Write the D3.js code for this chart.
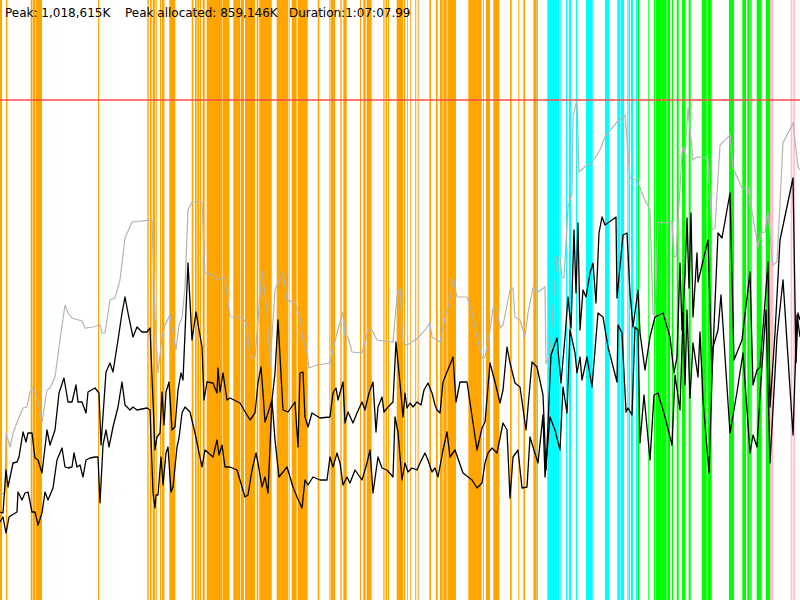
<!DOCTYPE html>
<html lang="en">
<head>
    <meta charset="UTF-8">
    <title>Memory</title>
    <script src="https://cdn.jsdelivr.net/npm/d3@7"></script>
    <style>
        body { margin: 0; background: #fff; }
        .committed { fill: none; stroke: #b4b4b4; stroke-width: 1.2px; }
        .used { fill: none; stroke: #000; stroke-width: 1.3px; stroke-linejoin: round; }
        .limit { stroke: #ff4a4a; stroke-width: 1.5px; }
        .header { font-family: "DejaVu Sans", sans-serif; font-size: 12px; fill: #000; }
    </style>
</head>
<body>
    <div id="chart"></div>
    <script>
        // x = sample index (about 10 s each), y = heap in MB
        const headerTexts = ["Peak: 1,018,615K", "Peak allocated: 859,146K", "Duration:1:07:07.99"];
        const heapLimit = 1000;

        // GC events [start sample, end sample]
        const gcOrange = [[0,1],[3,3.65],[15.35,16],[16.25,17.5],[17.75,21],[49,49.5],
            [73.65,74.35],[75,75.85],[76.35,77.65],[78,78.35],[80,80.5],[80.85,82.2],[84.65,87.65],
            [95.85,96.65],[97.5,98.35],[98.65,99.65],[100,100.5],[101.35,102.35],[103.35,111],[111.25,114.65],
            [116.65,120],[120.35,122],[122.5,127.5],[128.35,129.15],[129.65,135.85],[138.35,144.15],[144.5,144.85],
            [145.85,148.35],[148.85,153.85],[158.85,159.65],[164.5,164.85],[165.25,167.5],[170.15,170.85],
            [171.65,173.35],[180,180.6],[181.65,182.85],[183.35,185.85],[191.65,192.3],[192.8,193.5],[194,194.6],
            [198.35,201.65],[202,202.5],[203.5,203.9],[205,205.4],[207.6,208.1],[208.8,209.3],[214.65,215.5],
            [218,218.85],[220,221.35],[221.65,223.35],[223.65,228],[234.15,240.85],[241.5,241.9],[243,245],
            [246.65,249.65],[255,255.85],[259.15,259.65],[261.65,262.5],[266.65,268.35]];
        const gcCyan = [[268.4,269],[273.65,279.65],[280,280.35],[283,283.65],[284.5,285.65],[288,288.65],
            [293,296.35],[302.5,304.65],[308.65,310.25],[310.5,312],[313.65,314.25],[314.5,315],[315.5,316.65],[318,318.65]];
        const gcGreen = [[318.85,319.65],[324.15,324.65],[327,327.65],[328,330.85],[331,333.35],[333.65,335],
            [335.85,336.65],[338.35,339.35],[341,342.65],[344.35,345.35],[350.85,353.35],[353.85,355.85],[364.5,367],
            [371.15,373],[373.65,374.85],[375.15,375.85],[378.35,380.85],[382.85,385]];
        const gcPink = [[385,386.65],[395.35,396.15],[396.65,397.5]];

        // committed heap (grey)
        const committed = [[0,210],[2.5,214],[3,334],[5,306],[6.5,334],[9,360],[11.5,384],[13.5,386],[15,416],[16.5,424],
            [18.5,406],[21,356],[23.5,420],[25,424],[27.5,446],[30,520],[32.5,590],[34,574],[36,564],[41,558],[42.5,544],
            [46.5,546],[50,550],[51,534],[52.5,534],[55,600],[57.5,604],[60,640],[62.5,724],[66,756],[76,760],[77.5,566],
            [79,454],[81,526],[82.5,550],[85,570],[86,546],[88,500],[89.5,550],[91,564],[92.5,626],[94,780],[96,796],
            [101,796],[102.5,654],[106.5,650],[108.5,640],[112.5,646],[115,566],[121.5,564],[123.5,550],[125,484],
            [127.5,484],[131,660],[133.5,580],[135,466],[137.5,620],[141.5,656],[143.5,600],[147.5,594],[150,566],
            [151.5,520],[153.5,496],[154.5,464],[158.5,470],[165,474],[166.5,500],[168.5,534],[171.5,576],[172.5,530],
            [174,526],[176,496],[181,494],[184,540],[186,540],[188.5,520],[196.5,516],[198.5,606],[200,624],[201.5,514],
            [203.5,510],[209,524],[212.5,540],[215,554],[216,526],[218.5,520],[220,516],[222.5,564],[225,600],[226.5,644],
            [228.5,606],[233.5,606],[236,574],[238.5,526],[241,484],[242.5,486],[245,540],[246.5,584],[248.5,580],
            [250,544],[251.5,550],[255,620],[256.5,624],[257.5,566],[260,560],[262.5,526],[264,574],[266.5,624],
            [269,616],[272.5,626],[273,474],[275,486],[276.5,586],[278.5,686],[280,684],[281,644],[282,644],[284,786],
            [286,814],[286.5,964],[288,994],[288.5,994],[289.5,856],[293.5,870],[296,874],[300,900],[302.5,926],
            [308.5,956],[312.5,970],[315,844],[318.5,840],[321,814],[322.5,800],[325,780],[326.5,574],[327.5,566],
            [329,756],[332.5,754],[336,756],[337,686],[338,688],[341,894],[341.5,906],[342.5,894],[344,984],[346.5,880],
            [348.5,886],[354,884],[356,740],[357.5,744],[360,910],[365,930],[366.5,864],[371,824],[374,824],[379,706],
            [380.5,734],[382.5,736],[384,776],[386.5,670],[388.5,676],[391.5,914],[396.5,954],[399,866],[400,860]];

        // used heap, upper trace
        const usedHigh = [[0,176],[1.5,174],[3,260],[4,226],[6.5,274],[8.5,276],[9.5,286],[11.5,336],[13,316],[14,334],
            [16,334],[17.5,284],[19,280],[21,254],[23.5,340],[25,310],[27.5,340],[29.5,414],[32,444],[34,396],[36,396],
            [38,430],[39,396],[41,396],[43,374],[44,416],[47.5,424],[49.5,414],[50.5,310],[53,456],[55,474],[56.5,456],
            [59,520],[61,574],[62.5,606],[64,574],[66.5,526],[68.5,546],[71,536],[73.5,536],[75,544],[77.5,300],
            [78.5,326],[80,334],[81,416],[82,350],[83,416],[84.5,436],[86,340],[87.5,346],[89,420],[90.5,454],[91.5,440],
            [94,674],[96,520],[98,576],[101,506],[102,400],[103.5,436],[106.5,434],[108.5,414],[109,464],[110,416],
            [111.5,454],[113.5,400],[115,404],[120,394],[123.5,370],[125,360],[127.5,374],[129,434],[130.5,466],
            [131.5,414],[132.5,356],[134,374],[136,400],[137.5,454],[139,560],[141.5,380],[144,376],[147.5,396],
            [149,306],[150,454],[151.5,456],[152.5,366],[154,346],[156,374],[160,364],[165,366],[166.5,414],[168,424],
            [169,400],[171.5,436],[172.5,354],[174,376],[176.5,354],[178.5,374],[181,396],[182.5,380],[184.5,414],
            [186.5,436],[188,336],[189,386],[191,406],[192,376],[194,386],[196.5,396],[198,516],[200,434],[201.5,366],
            [202.5,414],[203.5,384],[205,394],[206.5,386],[208.5,396],[210.5,390],[212,420],[214,434],[216,414],
            [217.5,390],[218.5,380],[220,374],[221.5,436],[226.5,486],[228,396],[230,436],[233.5,436],[238.5,300],
            [241,344],[242.5,356],[245,474],[247.5,436],[250,394],[251.5,420],[253.5,506],[255,474],[257.5,434],
            [260,426],[263,340],[266,476],[268.5,466],[271.5,410],[273,260],[275.5,490],[278.5,524],[280.5,434],
            [282.5,526],[284,606],[285.5,544],[287,740],[288,614],[289,754],[290,540],[291.5,620],[293,606],[295,654],
            [296.5,674],[298,594],[299.5,734],[301,766],[302.5,750],[308,766],[308.5,604],[311.5,730],[313.5,734],
            [315,614],[316.5,546],[319,620],[320,534],[322.5,460],[325,526],[327.5,566],[331.5,574],[335,526],[337,454],
            [338.5,486],[340,674],[341,540],[342.5,650],[343.5,764],[344.5,624],[345.5,774],[346.5,566],[348.5,694],
            [349,636],[354,720],[356,454],[359,734],[361,724],[365,814],[367,480],[371,520],[375,656],[376.5,430],
            [378.5,460],[380,466],[382.5,596],[384,676],[385,386],[387.5,534],[390,720],[396.5,844],[398,474],
            [399,574],[400,560]];

        // used heap, lower trace
        const usedLow = [[0,156],[1.5,166],[3,134],[4.5,166],[6,170],[8.5,176],[9,216],[11,200],[12.5,214],[14,216],
            [16,176],[17.5,176],[19,150],[21,174],[22.5,216],[24,200],[26.5,224],[28.5,280],[31,304],[32.5,266],[34,264],
            [36,266],[37,294],[38.5,266],[40,270],[41.5,246],[43,280],[45,284],[47.5,286],[49,286],[50,194],[51.5,310],
            [53,340],[54.5,306],[56.5,346],[59,386],[61,436],[62.5,390],[65,380],[66.5,386],[68.5,380],[73.5,384],
            [75,380],[76.5,214],[77.5,184],[78,210],[79,210],[80.5,286],[81.5,230],[83,294],[84,306],[85.5,216],
            [86.5,226],[88.5,306],[89.5,324],[91,374],[92.5,386],[95,376],[97.5,334],[101,266],[102.5,300],[106.5,286],
            [108.5,320],[109.5,290],[111,310],[112.5,266],[115,266],[118.5,260],[122.5,206],[124,210],[126,260],
            [128,294],[129,274],[131,226],[132.5,246],[134,214],[136,400],[137.5,320],[139.5,246],[143.5,266],
            [146.5,226],[148.5,206],[151,184],[152.5,240],[154,230],[156.5,246],[160,240],[163.5,240],[165,286],
            [166.5,266],[168.5,294],[170,274],[171.5,230],[173.5,246],[175,234],[177.5,260],[181,240],[183.5,274],
            [185,300],[186.5,214],[189,286],[191,264],[193.5,260],[196.5,246],[197.5,366],[199,336],[201,240],
            [202.5,274],[204,256],[206,264],[208.5,260],[210,274],[212.5,294],[214,280],[216,256],[217.5,264],
            [219,246],[221.5,300],[223.5,336],[225,286],[227.5,300],[231.5,254],[236,240],[238.5,224],[241,234],
            [242.5,274],[244,294],[246,304],[248.5,294],[251.5,354],[253.5,340],[255,204],[256.5,286],[259,300],
            [261,224],[263.5,226],[265,326],[266.5,306],[269,274],[271.5,370],[272.5,246],[275,366],[277.5,340],
            [280,300],[281.5,426],[283.5,374],[285,540],[287.5,494],[288.5,454],[290,486],[291,440],[293.5,486],
            [296,426],[299,574],[301.5,566],[304,506],[308.5,436],[309,550],[311,534],[313,376],[314,384],[316,370],
            [317.5,546],[319,540],[320,314],[322,410],[325,280],[327,410],[329,414],[332.5,366],[336,310],[337.5,450],
            [340,380],[341.5,574],[342.5,430],[343.5,580],[345,404],[346.5,514],[349,446],[350,536],[351.5,400],
            [354.5,254],[356.5,506],[359,540],[360.5,610],[365,334],[368.5,416],[371.5,494],[375,294],[376.5,330],
            [378.5,306],[380,410],[383,580],[385,274],[388.5,526],[391.5,640],[396.5,330],[398.5,570],[400,526]];

        const width = 800, height = 600;

        const x = d3.scaleLinear().domain([0, 400]).range([0, width]);
        const y = d3.scaleLinear().domain([0, 1200]).range([height, 0]);

        const svg = d3.select("#chart")
            .append("svg")
            .attr("width", width)
            .attr("height", height);

        // GC stripes
        const gcSets = [
            { data: gcOrange, color: "#ffa500" },
            { data: gcCyan, color: "#00ffff" },
            { data: gcGreen, color: "#00ff00" },
            { data: gcPink, color: "#ffc0cb" }
        ];
        gcSets.forEach(function(set) {
            svg.append("g")
                .selectAll("rect")
                .data(set.data)
                .enter()
                .append("rect")
                .attr("x", function(d) { return x(d[0]); })
                .attr("width", function(d) { return x(d[1]) - x(d[0]); })
                .attr("y", 0)
                .attr("height", height)
                .attr("fill", set.color);
        });

        const line = d3.line()
            .x(function(d) { return x(d[0]); })
            .y(function(d) { return y(d[1]); });

        svg.append("path").datum(committed).attr("class", "committed").attr("d", line);
        svg.append("path").datum(usedHigh).attr("class", "used").attr("d", line);
        svg.append("path").datum(usedLow).attr("class", "used").attr("d", line);

        // heap limit
        svg.append("line")
            .attr("class", "limit")
            .attr("x1", 0)
            .attr("x2", width)
            .attr("y1", y(heapLimit))
            .attr("y2", y(heapLimit));

        // header
        const headerX = [5, 125, 289];
        svg.selectAll(".header")
            .data(headerTexts)
            .enter()
            .append("text")
            .attr("class", "header")
            .attr("x", function(d, i) { return headerX[i]; })
            .attr("y", 17)
            .text(function(d) { return d; });
    </script>
</body>
</html>
